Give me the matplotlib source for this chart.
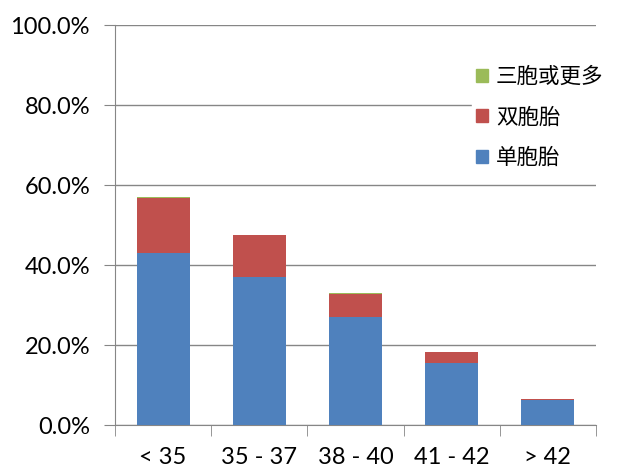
import numpy as np
import matplotlib
matplotlib.use("Agg")
import matplotlib.pyplot as plt
from matplotlib.patches import Patch

plt.rcParams['font.family'] = ['Lato', 'Noto Sans CJK SC', 'DejaVu Sans']

groups = ["< 35", "35 - 37", "38 - 40", "41 - 42", "> 42"]
single = [43.1, 37.1, 27.1, 15.4, 6.3]
twins = [13.7, 10.3, 5.6, 2.8, 0.1]
triplets = [0.3, 0.1, 0.2, 0.0, 0.0]
series_names = ["单胞胎", "双胞胎", "三胞或更多"]
colors = ["#4f81bd", "#c0504d", "#9bbb59"]

fig = plt.figure(figsize=(6.4, 4.76), dpi=100)
ax = fig.add_axes([115 / 640, 1 - 425 / 476, 481 / 640, 400 / 476])

x = np.arange(len(groups))
w = 0.55
s = np.array(single)
t = np.array(twins)
ax.bar(x, s, w, color=colors[0], zorder=3)
ax.bar(x, t, w, bottom=s, color=colors[1], zorder=3)
ax.bar(x, triplets, w, bottom=s + t, color=colors[2], zorder=3)

ax.set_xlim(-0.5, len(groups) - 0.5)
ax.set_ylim(0, 100)
ax.set_yticks(np.arange(0, 101, 20))
ax.set_yticklabels(["%.1f%%" % v for v in np.arange(0, 101, 20)], fontsize=17)
ax.yaxis.grid(True, color="#868686", linewidth=1, zorder=0)

ax.set_xticks(x)
ax.set_xticklabels(groups, fontsize=17)
ax.set_xticks(np.arange(-0.5, len(groups)), minor=True)
ax.tick_params(axis="x", which="major", length=0, pad=16)
ax.tick_params(axis="x", which="minor", length=8, color="#868686", direction="out")
ax.tick_params(axis="y", length=8, color="#868686", direction="out", pad=10)

for side in ["top", "right"]:
    ax.spines[side].set_visible(False)
for side in ["left", "bottom"]:
    ax.spines[side].set_color("#868686")

handles = [Patch(color=colors[i]) for i in [2, 1, 0]]
labels = [series_names[i] for i in [2, 1, 0]]
leg = ax.legend(handles, labels, loc="upper left", bbox_to_anchor=(0.72, 0.935),
                frameon=True, fontsize=15.5, handlelength=0.55, handleheight=0.55,
                handletextpad=0.35, labelspacing=0.85, borderpad=0.2)
leg.get_frame().set_edgecolor("white")
leg.get_frame().set_facecolor("white")
leg.get_frame().set_alpha(1)
leg.get_frame().set_boxstyle("square", pad=0)
for txt in leg.get_texts():
    txt.set_family(['Noto Sans CJK SC', 'DejaVu Sans'])
leg.set_zorder(5)

fig.savefig("out.png", dpi=100, facecolor="white")
